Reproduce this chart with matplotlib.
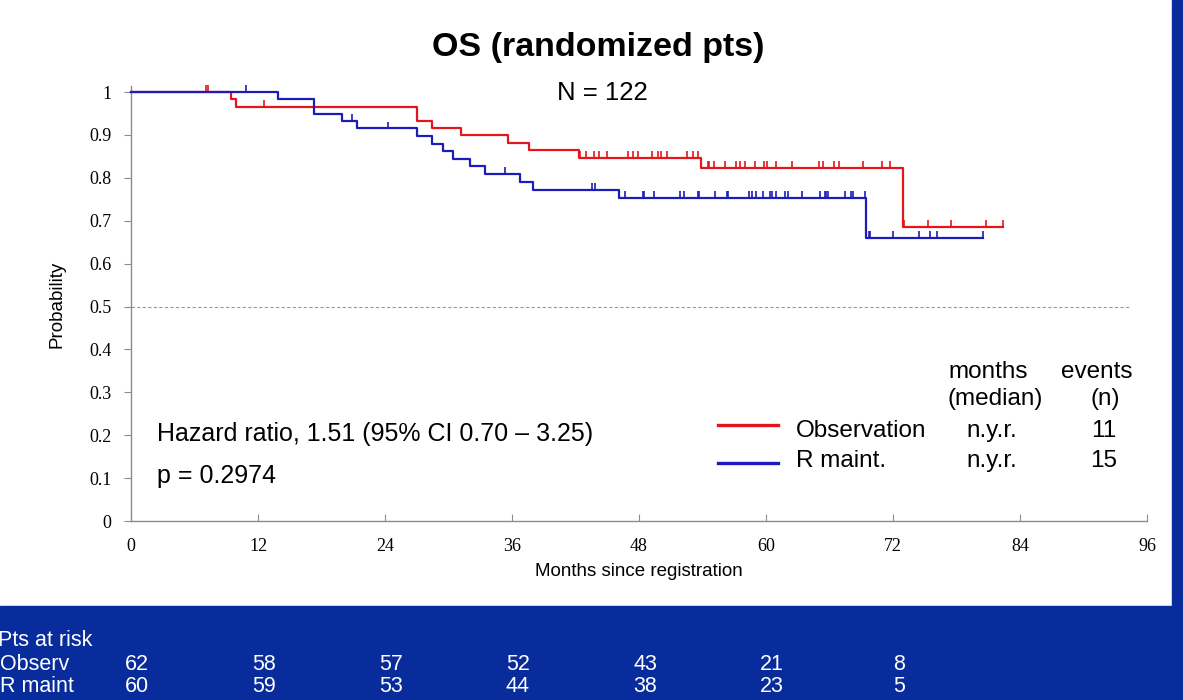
import numpy as np
import matplotlib
matplotlib.use("Agg")
from matplotlib import pyplot as plt
from matplotlib.patches import Rectangle

# Kaplan-Meier steps (months, survival)
obs_times = [0, 9.45, 9.9, 27.05, 28.4, 31.2, 35.6, 37.6, 42.3, 53.9, 72.9]
obs_surv = [1.0, 0.984, 0.966, 0.932, 0.915, 0.899, 0.882, 0.864, 0.847, 0.824, 0.685]
obs_end = 82.4
obs_cens = [7.06, 7.25, 12.6,
            42.4, 42.97, 43.76, 44.23, 44.96, 47.0, 47.47, 47.88, 49.23, 49.83, 50.05, 50.62,
            52.57, 53.07, 53.55,
            54.5, 54.65, 55.1, 56.1, 57.2, 57.5, 58.0, 58.96, 59.8, 60.07, 60.95, 62.5, 65.0,
            65.4, 66.4, 66.9, 69.2, 71.0, 71.7,
            73.0, 75.3, 77.5, 80.8, 82.4]

rm_times = [0, 13.9, 17.3, 19.9, 21.4, 27.0, 28.4, 29.5, 30.4, 32.0, 33.45, 36.8, 38.0, 46.1, 69.45]
rm_surv = [1.0, 0.983, 0.949, 0.932, 0.915, 0.897, 0.879, 0.862, 0.844, 0.828, 0.810, 0.791,
           0.772, 0.754, 0.659]
rm_end = 80.5
rm_cens = [10.9, 20.9, 24.25, 35.3, 43.6, 43.8,
           46.7, 48.4, 48.5, 49.4, 51.9, 52.25, 53.6, 53.7, 55.2, 56.3, 56.4, 58.4, 58.7, 59.05,
           59.7, 60.4, 60.55, 60.95, 61.8, 62.1, 63.4, 65.1, 65.6, 65.7, 65.9, 67.5, 68.0, 68.2,
           69.4, 69.7, 69.8, 72.0, 74.5, 75.5, 76.2, 80.5]

xticks = [0, 12, 24, 36, 48, 60, 72, 84, 96]
yticks = [0, 0.1, 0.2, 0.3, 0.4, 0.5, 0.6, 0.7, 0.8, 0.9, 1]
ytick_labels = ["0", "0.1", "0.2", "0.3", "0.4", "0.5", "0.6", "0.7", "0.8", "0.9", "1"]

risk_months = [0, 12, 24, 36, 48, 60, 72]
risk_obs = [62, 58, 57, 52, 43, 21, 8]
risk_rm = [60, 59, 53, 44, 38, 23, 5]

RED = "#E3161B"
BLUE = "#1C1CB8"
NAVY = "#082C9C"
W, H = 1183, 700
SANS = ["Liberation Sans", "DejaVu Sans"]
NARROW = ["Liberation Sans Narrow", "Liberation Sans", "DejaVu Sans"]


def px(x, y):
    # pixel position (from top-left) to figure fraction
    return x / W, 1 - y / H


def draw_km(ax, times, surv, end, cens, color):
    ax.step(list(times) + [end], list(surv) + [surv[-1]], where="post",
            color=color, lw=1.6, clip_on=False, zorder=3)
    idx = np.searchsorted(times, cens, side="right") - 1
    lev = np.array(surv)[idx]
    ax.vlines(cens, lev, lev + 0.016, color=color, lw=1.2, clip_on=False, zorder=3)


fig = plt.figure(figsize=(W / 100, H / 100), dpi=100)
fig.patches.append(Rectangle((0, 0), 1, (H - 606) / H, transform=fig.transFigure,
                             color=NAVY, zorder=0))
fig.patches.append(Rectangle((1172 / W, 0), 11 / W, 1, transform=fig.transFigure,
                             color=NAVY, zorder=0))

ax = fig.add_axes([131 / W, (H - 521) / H, 1016 / W, (521 - 86) / H])
ax.patch.set_alpha(0)
ax.set_xlim(0, 96)
ax.set_ylim(0, 1.014)

draw_km(ax, obs_times, obs_surv, obs_end, obs_cens, RED)
draw_km(ax, rm_times, rm_surv, rm_end, rm_cens, BLUE)
ax.plot([0, 94.5], [0.5, 0.5], ls=(0, (3, 2)), color="#9a9a9a", lw=0.8)

for s in ["top", "right"]:
    ax.spines[s].set_visible(False)
for s in ["left", "bottom"]:
    ax.spines[s].set_color("#8c8c8c")
    ax.spines[s].set_linewidth(1.0)

ax.set_xticks(xticks)
ax.set_yticks(yticks)
ax.set_yticklabels(ytick_labels)
ax.tick_params(axis="x", direction="in", length=5, color="#8c8c8c", pad=12)
ax.tick_params(axis="y", direction="out", length=5, color="#8c8c8c", pad=9)
for lab in ax.get_xticklabels() + ax.get_yticklabels():
    lab.set_fontfamily(["Liberation Serif", "DejaVu Serif"])
    lab.set_fontsize(13)

fig.text(*px(639, 572), "Months since registration", family=SANS, fontsize=13.5,
         ha="center", va="center")
fig.text(*px(57, 304), "Probability", family=SANS, fontsize=13.5, rotation=90,
         ha="center", va="center")

fig.text(*px(598, 56), "OS (randomized pts)", family=SANS, fontsize=24.5, weight="bold",
         ha="center", va="baseline")
fig.text(*px(602, 100), "N = 122", family=SANS, fontsize=18.5, ha="center", va="baseline")

fig.text(*px(157, 441), "Hazard ratio, 1.51 (95% CI 0.70 \u2013 3.25)", family=SANS,
         fontsize=18, ha="left", va="baseline")
fig.text(*px(157, 483), "p = 0.2974", family=SANS, fontsize=18, ha="left", va="baseline")

# legend table
fs = 17.5
fig.text(*px(988, 378), "months", family=SANS, fontsize=fs, ha="center", va="baseline")
fig.text(*px(1097, 378), "events", family=SANS, fontsize=fs, ha="center", va="baseline")
fig.text(*px(995, 405), "(median)", family=SANS, fontsize=fs, ha="center", va="baseline")
fig.text(*px(1105, 405), "(n)", family=SANS, fontsize=fs, ha="center", va="baseline")
for yb, yl, col, name, med, ev in [(437, 425, RED, "Observation", "n.y.r.", "11"),
                                   (467, 463, BLUE, "R maint.", "n.y.r.", "15")]:
    x0, y0 = px(718, yl)
    x1, _ = px(778, yl)
    fig.add_artist(plt.Line2D([x0, x1], [y0, y0], color=col, lw=2.4,
                              transform=fig.transFigure))
    fig.text(*px(796, yb), name, family=SANS, fontsize=fs, ha="left", va="baseline")
    fig.text(*px(992, yb), med, family=SANS, fontsize=fs, ha="center", va="baseline")
    fig.text(*px(1104, yb), ev, family=SANS, fontsize=fs, ha="center", va="baseline")

# patients at risk in the blue band
rs = 15.5
fig.text(*px(-2, 641), "Pts at risk", family=NARROW, fontsize=rs, color="white",
         ha="left", va="center")
fig.text(*px(0, 664), "Observ", family=NARROW, fontsize=rs, color="white",
         ha="left", va="center")
fig.text(*px(0, 687), "R maint", family=NARROW, fontsize=rs, color="white",
         ha="left", va="center")
for m, a, b in zip(risk_months, risk_obs, risk_rm):
    xf = fig.transFigure.inverted().transform(ax.transData.transform((m, 0)))[0] + 6 / W
    fig.text(xf, px(0, 664)[1], str(a), family=NARROW, fontsize=rs, color="white",
             ha="center", va="center")
    fig.text(xf, px(0, 687)[1], str(b), family=NARROW, fontsize=rs, color="white",
             ha="center", va="center")

fig.savefig("out.png", dpi=100)
